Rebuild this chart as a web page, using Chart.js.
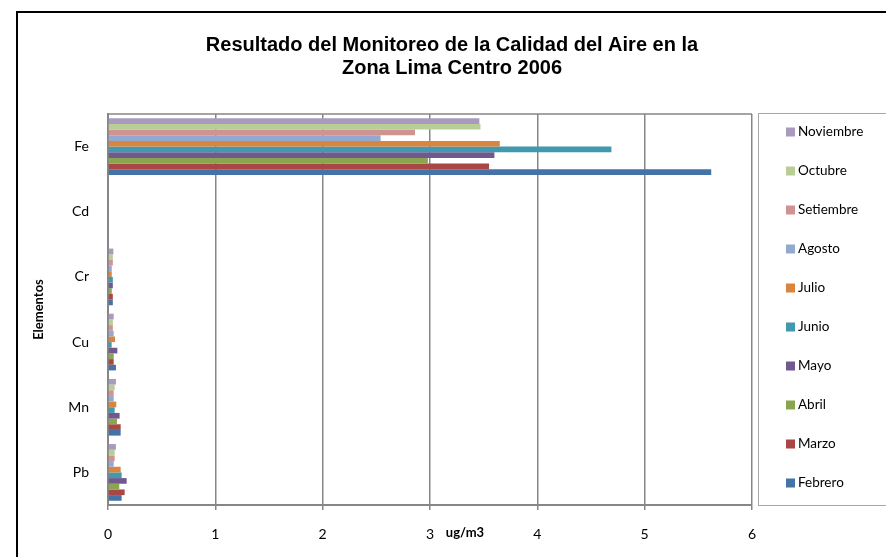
<!DOCTYPE html>
<html>
<head>
<meta charset="utf-8">
<title>Calidad del Aire Lima Centro 2006</title>
<script src="https://cdn.jsdelivr.net/npm/chart.js@4.4.1/dist/chart.umd.min.js"></script>
<style>
  html, body { margin: 0; padding: 0; background: #fff; }
</style>
</head>
<body>
<canvas id="chart" width="886" height="557"></canvas>
<script>
// elementos de arriba hacia abajo
const elementos = ["Fe", "Cd", "Cr", "Cu", "Mn", "Pb"];

// meses en el orden de la leyenda (arriba -> abajo)
const meses = ["Noviembre", "Octubre", "Setiembre", "Agosto", "Julio",
               "Junio", "Mayo", "Abril", "Marzo", "Febrero"];

// valores en ug/m3, mismo orden que elementos
const noviembre = [3.46, 0, 0.050, 0.053, 0.074, 0.074];
const octubre   = [3.47, 0, 0.045, 0.045, 0.062, 0.062];
const setiembre = [2.86, 0, 0.045, 0.045, 0.053, 0.062];
const agosto    = [2.54, 0, 0.035, 0.053, 0.053, 0.053];
const julio     = [3.65, 0, 0.035, 0.065, 0.077, 0.118];
const junio     = [4.69, 0, 0.045, 0.034, 0.062, 0.127];
const mayo      = [3.60, 0, 0.045, 0.087, 0.108, 0.174];
const abril     = [2.98, 0, 0.035, 0.053, 0.084, 0.105];
const marzo     = [3.55, 0, 0.045, 0.053, 0.118, 0.155];
const febrero   = [5.62, 0, 0.045, 0.074, 0.118, 0.127];

const xTicks = [0, 1, 2, 3, 4, 5, 6];

const series = [noviembre, octubre, setiembre, agosto, julio, junio, mayo, abril, marzo, febrero];
const colores = ["#A99BBD", "#B9CD96", "#D19392", "#93A9CF", "#DB843D",
                 "#4198AF", "#71588F", "#89A54E", "#AA4643", "#4572A7"];

const FONT = "Lato, 'Liberation Sans', sans-serif";

// titulo, leyenda, marco y titulo del eje x
const marco = {
  id: "marco",
  beforeDraw(chart) {
    const ctx = chart.ctx;
    ctx.save();
    ctx.fillStyle = "#fff";
    ctx.fillRect(0, 0, chart.width, chart.height);
    ctx.restore();
  },
  afterDraw(chart) {
    const ctx = chart.ctx;
    const a = chart.chartArea;
    ctx.save();

    // borde superior del area de trazado
    ctx.strokeStyle = "#868686";
    ctx.lineWidth = 1.5;
    ctx.beginPath();
    ctx.moveTo(a.left, a.top);
    ctx.lineTo(a.right, a.top);
    ctx.stroke();

    // titulo
    ctx.fillStyle = "#000";
    ctx.font = "bold 20px 'Liberation Sans', Arial, sans-serif";
    ctx.textAlign = "center";
    ctx.textBaseline = "middle";
    ctx.fillText("Resultado del Monitoreo de la Calidad del Aire en la", 452, 45);
    ctx.fillText("Zona Lima Centro 2006", 452, 68);

    // titulo del eje x
    ctx.font = "bold 13px " + FONT;
    ctx.fillText("ug/m3", 465, 533);

    // leyenda
    ctx.strokeStyle = "#a6a6a6";
    ctx.lineWidth = 1;
    ctx.strokeRect(758.5, 113.5, 140, 392);
    ctx.font = "13.5px " + FONT;
    ctx.textAlign = "left";
    chart.data.datasets.forEach((ds, i) => {
      const y = 132 + i * 39;
      ctx.fillStyle = ds.backgroundColor;
      ctx.fillRect(786, y - 4.5, 9, 9);
      ctx.fillStyle = "#000";
      ctx.fillText(ds.label, 798, y);
    });

    // marco exterior
    ctx.strokeStyle = "#000";
    ctx.lineWidth = 2;
    ctx.strokeRect(17, 12, 900, 600);
    ctx.restore();
  }
};

new Chart(document.getElementById("chart"), {
  type: "bar",
  data: {
    labels: elementos,
    datasets: meses.map((m, i) => ({
      label: m,
      data: series[i],
      backgroundColor: colores[i],
      borderWidth: 0,
      categoryPercentage: 0.87,
      barPercentage: 1.0
    }))
  },
  options: {
    indexAxis: "y",
    responsive: false,
    animation: false,
    devicePixelRatio: 1,
    layout: { padding: { left: 20, right: 134, top: 114, bottom: 0 } },
    plugins: {
      legend: { display: false },
      title: { display: false },
      tooltip: { enabled: false }
    },
    scales: {
      x: {
        type: "linear",
        min: 0,
        max: 6,
        afterBuildTicks: (scale) => { scale.ticks = xTicks.map(v => ({ value: v })); },
        ticks: { color: "#000", font: { family: FONT, size: 14 }, padding: 16 },
        grid: { color: "#868686", lineWidth: 1.5, tickLength: 5, drawTicks: true },
        border: { display: true, color: "#868686", width: 2 },
        afterFit: (scale) => { scale.height = 52; }
      },
      y: {
        ticks: { color: "#000", font: { family: FONT, size: 14 }, padding: 19 },
        grid: { display: false, drawTicks: false },
        border: { display: true, color: "#868686", width: 2 },
        title: {
          display: true,
          text: "Elementos",
          color: "#000",
          font: { family: FONT, size: 13, weight: "bold" },
          padding: { top: 11, bottom: 0 }
        },
        afterFit: (scale) => { scale.width = 88; }
      }
    }
  },
  plugins: [marco]
});
</script>
</body>
</html>
